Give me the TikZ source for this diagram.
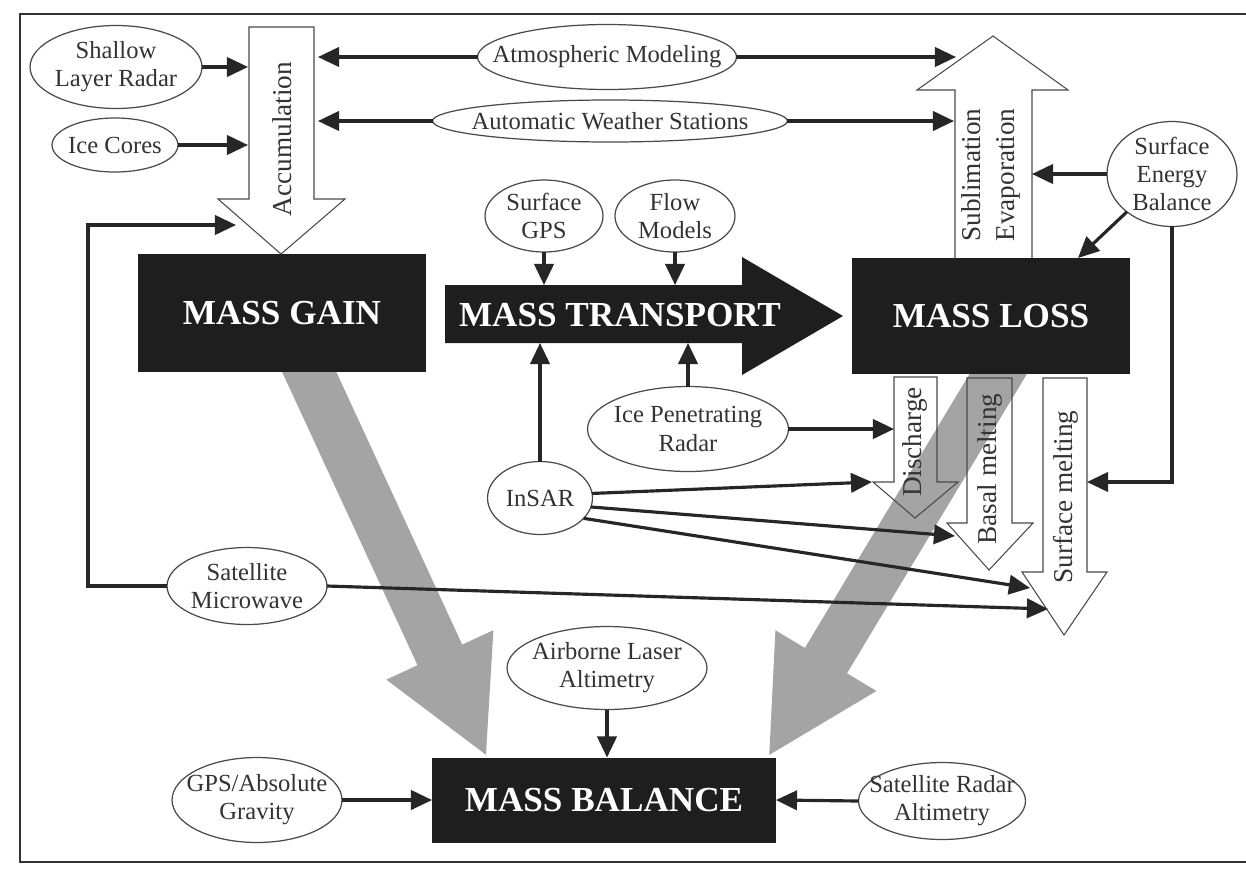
\documentclass[tikz,border=0pt]{standalone}
\usepackage{fontspec}
\setmainfont{Liberation Serif}
\usetikzlibrary{shapes.geometric,arrows.meta,backgrounds}

\definecolor{boxfill}{HTML}{1E1E1E}
\definecolor{shade}{HTML}{A4A4A4}
\definecolor{rim}{HTML}{4A4A4A}
\definecolor{ink}{HTML}{333333}

\tikzset{
  obs/.style={ellipse, draw=rim, line width=0.7pt, inner sep=0pt, outer sep=0pt},
  obstext/.style={text=ink, align=center, font=\fontsize{14}{16}\selectfont},
  bigbox/.style={fill=boxfill, text=white, inner sep=0pt, outer sep=0pt,
    font=\fontsize{20}{24}\selectfont\bfseries},
  bigtext/.style={text=white, inner sep=0pt, font=\fontsize{20}{24}\selectfont\bfseries},
  conn/.style={draw=black!85, line width=1.8pt, -{Triangle[length=12pt,width=11pt]}},
  flux/.style={draw=rim, line width=0.6pt, line join=miter},
  fluxtext/.style={text=ink, rotate=90, align=center, font=\fontsize{15.5}{19.5}\selectfont},
  budget/.style={draw=shade, line width=28pt, -{Triangle[length=64pt,width=62pt]}},
}

\begin{document}
\begin{tikzpicture}[x=0.02cm, y=-0.02cm]
        \useasboundingbox (0,0) rectangle (1246,876);

        % Frame
        \draw[black!80, line width=0.8pt] (1246,14) -- (20,14) -- (20,862) -- (1246,862);

        % Draw big boxes
        \node[bigbox, minimum width=5.78cm, minimum height=2.36cm] (gain) at (282,313) {MASS GAIN};
        \node[bigbox, minimum width=5.56cm, minimum height=2.34cm] (loss) at (991,316) {MASS LOSS};
        \node[bigbox, minimum width=6.88cm, minimum height=1.70cm] (bal) at (604,800) {MASS BALANCE};
        \fill[boxfill] (445,285) -- (742,285) -- (742,257) -- (843,316) -- (742,375) -- (742,343) -- (445,343) -- cycle;
        \node[bigtext] (transport) at (620,315) {MASS TRANSPORT};
        \coordinate (transTop) at (0,285);
        \coordinate (transBot) at (0,343);

        % Draw hollow flux arrows
        \draw[flux] (249,27) -- (314,27) -- (314,199) -- (345,199) -- (281,254) -- (218,199) -- (249,199) -- cycle;
        \node[fluxtext] (accum) at (282,139) {Accumulation};
        \draw[flux] (955,258) -- (955,90) -- (917,90) -- (993,36) -- (1068,90) -- (1032,90) -- (1032,258);
        \node[fluxtext] (subl) at (991,175) {Sublimation\\Evaporation};
        \draw[flux] (894,377) -- (894,482) -- (873,482) -- (915,518) -- (958,482) -- (937,482) -- (937,377) -- cycle;
        \node[fluxtext] (disch) at (915,442) {Discharge};
        \draw[flux] (967,378) -- (967,523) -- (947,523) -- (989,570) -- (1033,523) -- (1012,523) -- (1012,378) -- cycle;
        \node[fluxtext] (basal) at (990,469) {Basal melting};
        \draw[flux] (1043,378) -- (1043,572) -- (1022,572) -- (1064,635) -- (1107,572) -- (1087,572) -- (1087,378) -- cycle;
        \node[fluxtext] (surfm) at (1066,497) {Surface melting};

        % Arrow targets on the flux arrows
        \coordinate (accA) at (248,67);
        \coordinate (accB) at (248,145);
        \coordinate (accC) at (318,57);
        \coordinate (accD) at (318,121);
        \coordinate (accE) at (236,225);
        \coordinate (subA) at (956,57);
        \coordinate (subB) at (954,121);
        \coordinate (subC) at (1032,174);
        \coordinate (lossA) at (1078,258);
        \coordinate (dischA) at (894,429);
        \coordinate (dischB) at (872,482);
        \coordinate (basalA) at (955,536);
        \coordinate (surfA) at (1030,588);
        \coordinate (surfB) at (1048,609);
        \coordinate (surfC) at (1087,482);

        % Draw measurements
        \node[obs, minimum width=3.44cm, minimum height=1.66cm, label={[obstext]center:Shallow\\Layer Radar}] (slr) at (116,67) {};
        \node[obs, minimum width=2.52cm, minimum height=1.08cm, label={[obstext]center:Ice Cores}] (cores) at (115,145) {};
        \node[obs, minimum width=5.18cm, minimum height=1.30cm, label={[obstext]center:Atmospheric Modeling}] (atm) at (607,57) {};
        \node[obs, minimum width=7.10cm, minimum height=0.84cm, label={[obstext]center:Automatic Weather Stations}] (aws) at (610,121) {};
        \node[obs, minimum width=2.36cm, minimum height=1.44cm, label={[obstext]center:Surface\\GPS}] (sgps) at (544,216) {};
        \node[obs, minimum width=2.40cm, minimum height=1.44cm, label={[obstext]center:Flow\\Models}] (flow) at (675,216) {};
        \node[obs, minimum width=2.60cm, minimum height=2.10cm, label={[obstext]center:Surface\\Energy\\Balance}] (seb) at (1172,174) {};
        \node[obs, minimum width=4.02cm, minimum height=1.70cm, label={[obstext]center:Ice Penetrating\\Radar}] (ipr) at (688,429) {};
        \node[obs, minimum width=2.10cm, minimum height=1.46cm, label={[obstext]center:InSAR}] (insar) at (540,498) {};
        \node[obs, minimum width=3.20cm, minimum height=1.54cm, label={[obstext]center:Satellite\\Microwave}] (satmw) at (247,586) {};
        \node[obs, minimum width=4.00cm, minimum height=1.66cm, label={[obstext]center:Airborne Laser\\Altimetry}] (ala) at (607,668) {};
        \node[obs, minimum width=3.40cm, minimum height=1.70cm, label={[obstext]center:GPS/Absolute\\Gravity}] (gps) at (257,800) {};
        \node[obs, minimum width=3.34cm, minimum height=1.54cm, label={[obstext]center:Satellite Radar\\Altimetry}] (sra) at (942,801) {};

        % Draw shaded mass budget arrows
        \coordinate (lossB) at (1033,316);
        \coordinate (gtipA) at (487,757);
        \coordinate (gtipB) at (768,757);
        \begin{scope}[on background layer]
          \fill[white] (0,0) rectangle (1246,876);
          \draw[budget] (gain.center) -- (gtipA);
          \draw[budget] (lossB) -- (gtipB);
        \end{scope}

        % Draw connectors
        \draw[conn] (slr.east) -- (accA);
        \draw[conn] (cores.east) -- (accB);
        \draw[conn] (atm.west) -- (accC);
        \draw[conn] (atm.east) -- (subA);
        \draw[conn] (aws.west) -- (accD);
        \draw[conn] (aws.east) -- (subB);
        \draw[conn] (seb.west) -- (subC);
        \draw[conn] (seb.220) -- (lossA);
        \draw[conn] (seb.south) |- (surfC);
        \draw[conn] (sgps.south) -- (sgps.south |- transTop);
        \draw[conn] (flow.south) -- (flow.south |- transTop);
        \draw[conn] (insar.north) -- (insar.north |- transBot);
        \draw[conn] (ipr.north) -- (ipr.north |- transBot);
        \draw[conn] (ipr.east) -- (dischA);
        \draw[conn] (insar.5) -- (dischB);
        \draw[conn] (insar.-10) -- (basalA);
        \draw[conn] (insar.-25) -- (surfA);
        \draw[conn] (satmw.east) -- (surfB);
        \draw[conn] (satmw.west) -- ++(-79,0) |- (accE);
        \draw[conn] (ala.south) -- (ala.south |- bal.north);
        \draw[conn] (gps.east) -- (bal.west);
        \draw[conn] (sra.west) -- (bal.east);
    \end{tikzpicture}
\end{document}
